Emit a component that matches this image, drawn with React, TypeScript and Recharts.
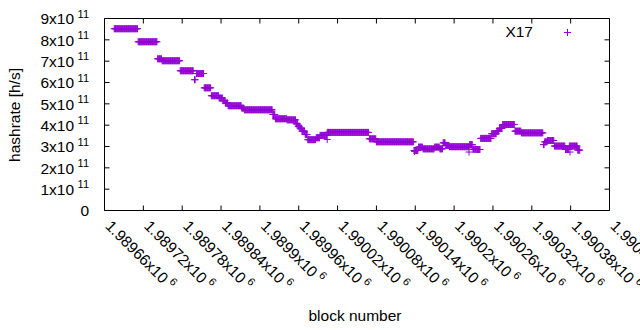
import React from 'react';
import { ScatterChart, Scatter, XAxis, YAxis, ReferenceArea, Legend } from 'recharts';

// ---- data ----
const seriesName = 'X17';

// runs of constant hashrate: first block, last block, hashrate (x 1e11 h/s)
const runStart = [
  1989675, 1989712, 1989742, 1989749, 1989777, 1989799, 1989802, 1989814, 1989825, 1989837,
  1989843, 1989847, 1989851, 1989872, 1989876, 1989920, 1989924, 1989942, 1989956, 1989959,
  1989962, 1989965, 1989970, 1989974, 1989987, 1989993, 1990004, 1990069, 1990080, 1990138,
  1990145, 1990152, 1990170, 1990178, 1990183, 1990187, 1990193, 1990224, 1990229, 1990235,
  1990241, 1990258, 1990266, 1990270, 1990275, 1990294, 1990304, 1990338, 1990340, 1990344,
  1990355, 1990372, 1990378, 1990391,
];
const runEnd = [
  1989711, 1989741, 1989748, 1989776, 1989797, 1989800, 1989813, 1989824, 1989836, 1989842,
  1989846, 1989850, 1989871, 1989875, 1989919, 1989923, 1989941, 1989955, 1989958, 1989961,
  1989964, 1989969, 1989973, 1989986, 1989992, 1990003, 1990068, 1990079, 1990137, 1990144,
  1990151, 1990169, 1990177, 1990182, 1990186, 1990192, 1990223, 1990228, 1990234, 1990240,
  1990257, 1990265, 1990269, 1990274, 1990293, 1990303, 1990337, 1990339, 1990343, 1990354,
  1990371, 1990377, 1990390, 1990394,
];
const runHashrate = [
  8.52, 7.91, 7.11, 7.02, 6.55, 6.13, 6.42, 5.75, 5.38, 5.27,
  5.15, 5.04, 4.91, 4.80, 4.72, 4.50, 4.30, 4.25, 4.06, 3.95,
  3.86, 3.72, 3.56, 3.32, 3.41, 3.52, 3.66, 3.36, 3.22, 2.81,
  2.97, 2.89, 2.97, 2.89, 3.17, 3.05, 2.99, 3.09, 2.87, 2.86,
  3.38, 3.60, 3.72, 3.85, 4.03, 3.72, 3.64, 3.09, 3.22, 3.28,
  3.02, 2.86, 3.02, 2.83,
];
// isolated single blocks
const strayBlock = [1990004, 1990139, 1990223, 1990379];
const strayHashrate = [3.33, 2.77, 2.74, 2.74];
const hashrateUnit = 1e11;

const xTicks = [
  1989660, 1989720, 1989780, 1989840, 1989900, 1989960, 1990020,
  1990080, 1990140, 1990200, 1990260, 1990320, 1990380, 1990440,
];
const xTickMantissa = [
  '1.98966', '1.98972', '1.98978', '1.98984', '1.9899', '1.98996', '1.99002',
  '1.99008', '1.99014', '1.9902', '1.99026', '1.99032', '1.99038', '1.99044',
];
const xTickExponent = '6';
const yTicks = [0, 1e11, 2e11, 3e11, 4e11, 5e11, 6e11, 7e11, 8e11, 9e11];
const yTickMantissa = ['0', '1x10', '2x10', '3x10', '4x10', '5x10', '6x10', '7x10', '8x10', '9x10'];
const yTickExponent = ['', '11', '11', '11', '11', '11', '11', '11', '11', '11'];

const xLabel = 'block number';
const yLabel = 'hashrate [h/s]';

// ---- table for the library ----
const points: { block: number; hashrate: number }[] = [];
runStart.forEach((s, i) => {
  for (let b = s; b <= runEnd[i]; b++) points.push({ block: b, hashrate: runHashrate[i] * hashrateUnit });
});
strayBlock.forEach((b, i) => points.push({ block: b, hashrate: strayHashrate[i] * hashrateUnit }));

// ---- layout / style ----
const W = 640;
const H = 330;
const PLOT_LEFT = 104.5;
const PLOT_TOP = 18.5;
const PLOT_RIGHT = 609.5;
const PLOT_BOTTOM = 210.5;
const TICK = 5;
const FONT = '"Liberation Sans", Arial, sans-serif';
const FS = 15.5;
const SUP = 11;
const COLOR = '#9400d3';

const XTick = (p: any) => {
  const { x, payload } = p;
  const i = xTicks.indexOf(payload.value);
  const ax = x;
  const ay = PLOT_BOTTOM + 16.5;
  return (
    <g>
      <line x1={x} y1={PLOT_BOTTOM} x2={x} y2={PLOT_BOTTOM - TICK} stroke="#000" strokeWidth={1} />
      <line x1={x} y1={PLOT_TOP} x2={x} y2={PLOT_TOP + TICK} stroke="#000" strokeWidth={1} />
      <text x={ax} y={ay} transform={`rotate(45, ${ax}, ${ay})`} fontFamily={FONT} fontSize={FS} fill="#000" textAnchor="start">
        <tspan>{xTickMantissa[i]}x10</tspan>
        <tspan dx={3.5} dy={-6.5} fontSize={SUP}>{xTickExponent}</tspan>
      </text>
    </g>
  );
};

const YTick = (p: any) => {
  const { y, payload } = p;
  const i = yTicks.indexOf(payload.value);
  return (
    <g>
      <line x1={PLOT_LEFT} y1={y} x2={PLOT_LEFT + TICK} y2={y} stroke="#000" strokeWidth={1} />
      <line x1={PLOT_RIGHT} y1={y} x2={PLOT_RIGHT - TICK} y2={y} stroke="#000" strokeWidth={1} />
      <text x={89} y={y + 5.8} textAnchor="end" fontFamily={FONT} fontSize={FS} fill="#000">
        <tspan>{yTickMantissa[i]}</tspan>
        {yTickExponent[i] ? (
          <tspan dx={3.5} dy={-6.6} fontSize={SUP}>{yTickExponent[i]}</tspan>
        ) : null}
      </text>
    </g>
  );
};

const PlusShape = (p: any) => {
  const { cx, cy } = p;
  if (cx == null || cy == null) return <g />;
  return <path d={`M${cx - 3.5},${cy}h7M${cx},${cy - 3.5}v7`} stroke={COLOR} strokeWidth={1} fill="none" />;
};

const LegendContent = (props: any) => {
  const item = props.payload && props.payload[0];
  const name = item ? item.value : seriesName;
  return (
    <svg width={W} height={50} style={{ position: 'absolute', left: 0, top: 0, overflow: 'visible' }}>
      <text x={533} y={37} textAnchor="end" fontFamily={FONT} fontSize={FS} fill="#000">{name}</text>
      <path d="M564,32.5h7M567.5,29v7" stroke={COLOR} strokeWidth={1} fill="none" />
    </svg>
  );
};

export default function App() {
  return (
    <div style={{ position: 'absolute', left: 0, top: 0, width: W, height: H, background: '#fff' }}>
      <ScatterChart width={W} height={H} margin={{ top: PLOT_TOP, right: W - PLOT_RIGHT, bottom: 0, left: 0 }}>
        <XAxis
          type="number"
          dataKey="block"
          domain={[xTicks[0], xTicks[xTicks.length - 1]]}
          ticks={xTicks}
          interval={0}
          allowDataOverflow
          height={H - PLOT_BOTTOM}
          tickSize={0}
          tickMargin={0}
          axisLine={false}
          tickLine={false}
          tick={(p: any) => <XTick {...p} />}
          label={{
            content: (lp: any) => (
              <text x={355} y={321} textAnchor="middle" fontFamily={FONT} fontSize={FS} fill="#000">{xLabel}</text>
            ),
          }}
        />
        <YAxis
          type="number"
          dataKey="hashrate"
          domain={[yTicks[0], yTicks[yTicks.length - 1]]}
          ticks={yTicks}
          interval={0}
          allowDataOverflow
          width={PLOT_LEFT}
          tickSize={0}
          tickMargin={0}
          axisLine={false}
          tickLine={false}
          tick={(p: any) => <YTick {...p} />}
          label={{
            content: (lp: any) => (
              <text x={20} y={115} transform="rotate(-90, 20, 115)" textAnchor="middle" fontFamily={FONT} fontSize={FS} fill="#000">{yLabel}</text>
            ),
          }}
        />
        <ReferenceArea
          x1={xTicks[0]}
          x2={xTicks[xTicks.length - 1]}
          y1={yTicks[0]}
          y2={yTicks[yTicks.length - 1]}
          fill="none"
          fillOpacity={0}
          stroke="#000"
          strokeWidth={1}
          ifOverflow="visible"
        />
        <Scatter name={seriesName} data={points} fill={COLOR} shape={PlusShape} isAnimationActive={false} />
        <Legend
          content={LegendContent}
          wrapperStyle={{ position: 'absolute', left: 0, top: 0, width: 0, height: 0, overflow: 'visible' }}
        />
      </ScatterChart>
    </div>
  );
}
